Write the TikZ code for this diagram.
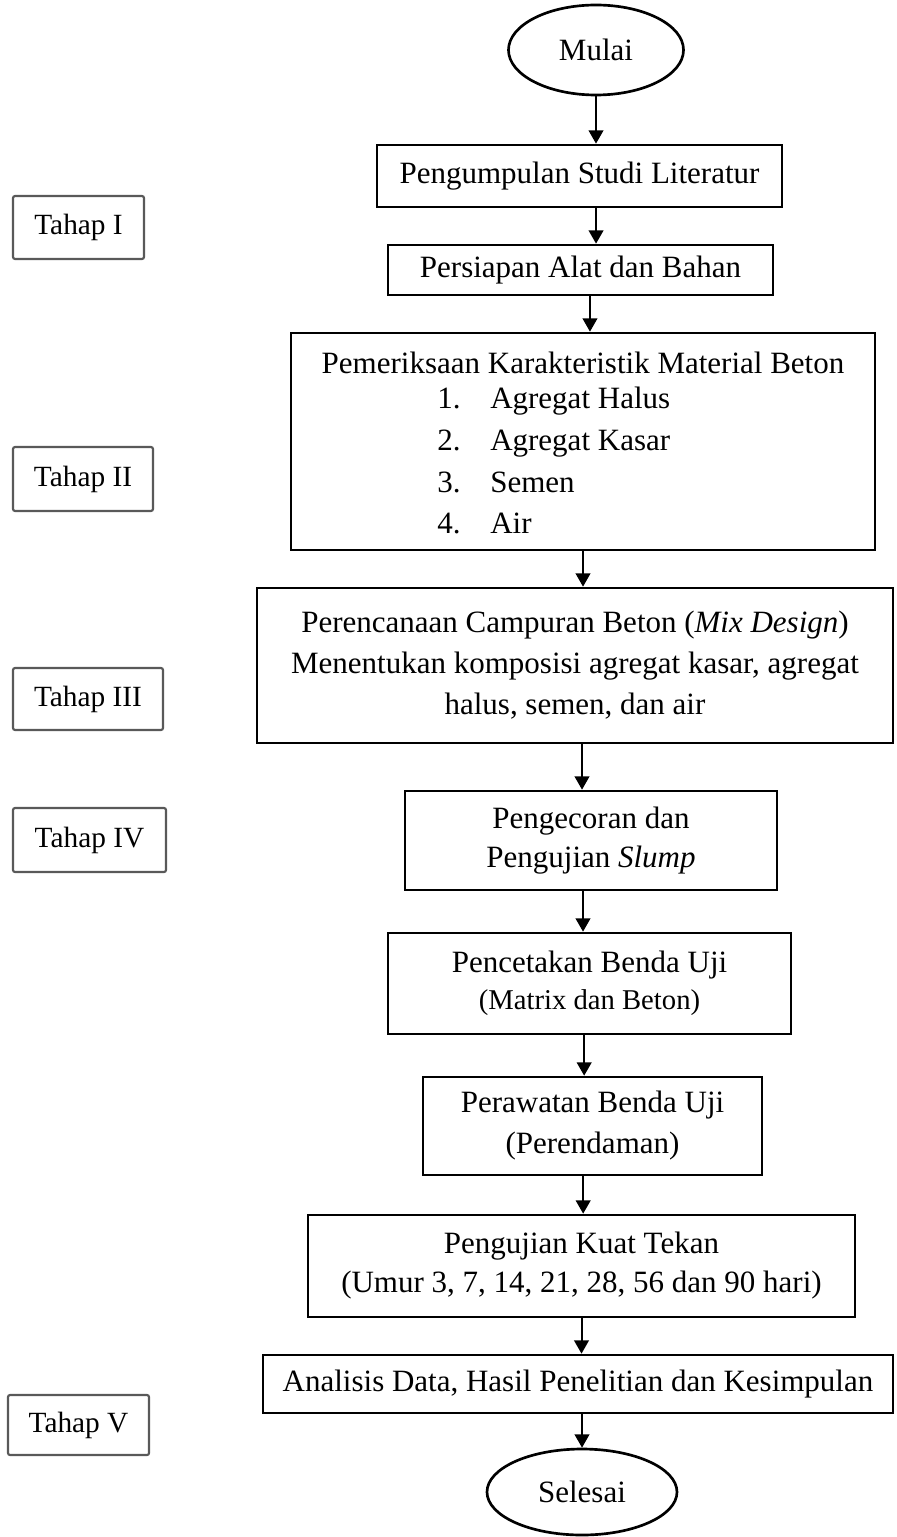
\documentclass[tikz,border=0pt]{standalone}
\usepackage{fontspec}
\setmainfont{Liberation Serif}
\usepackage{tikz}
\usetikzlibrary{positioning}
\usetikzlibrary{shapes.geometric}
\usetikzlibrary{arrows.meta}
\definecolor{tahapgray}{rgb}{0.35, 0.35, 0.35}

\tikzset{
  proses/.style={draw, line width=2pt, align=center, inner sep=0pt,
    font=\fontsize{23.25}{30.75}\selectfont},
  terminal/.style={draw, ellipse, line width=2pt, inner sep=0pt,
    font=\fontsize{23.25}{28}\selectfont},
  tahap/.style={draw=tahapgray, line width=1.6pt, rounded corners=1.5pt, inner sep=0pt,
    font=\fontsize{22}{26}\selectfont},
  butir/.style={anchor=west, inner sep=0pt, text height=1.6ex, text depth=0.5ex,
    font=\fontsize{23.25}{28}\selectfont},
  panah/.style={-{Triangle[length=10pt,width=11pt]}, line width=1.5pt}
}

\begin{document}
\begin{tikzpicture}[x=0.75pt,y=0.75pt,yscale=-1,xscale=1]
\useasboundingbox (0,0) rectangle (896,1537);

%Shape: Ellipse [id:mulai]
\node[terminal, minimum width=131.25pt, minimum height=67.5pt] (mulai) at (596,50) {Mulai};

%Shape: Rectangle [id:studi]
\node[proses, minimum width=303.75pt, minimum height=46.5pt] (studi) at (579.5,176) {Pengumpulan Studi Literatur};
%Shape: Rectangle [id:persiapan]
\node[proses, minimum width=288.75pt, minimum height=37.5pt] (persiapan) at (580.5,270) {Persiapan Alat dan Bahan};
%Shape: Rectangle [id:periksa]
\node[proses, minimum width=438pt, minimum height=162.75pt] (periksa) at (583,441.5) {};
%Shape: Rectangle [id:campuran]
\node[proses, minimum width=477pt, minimum height=116.25pt] (campuran) at (575,665.5)
  {Perencanaan Campuran Beton (\textit{Mix Design})\\Menentukan komposisi agregat kasar, agregat\\halus, semen, dan air};
%Shape: Rectangle [id:pengecoran]
\node[proses, minimum width=279pt, minimum height=74.25pt, font=\fontsize{23.25}{29.25}\selectfont] (pengecoran) at (591,840.5)
  {Pengecoran dan\\Pengujian \textit{Slump}};
%Shape: Rectangle [id:pencetakan]
\node[proses, minimum width=302.25pt, minimum height=75.75pt, font=\fontsize{23.25}{27.5}\selectfont] (pencetakan) at (589.5,983.5)
  {Pencetakan Benda Uji\\{\fontsize{21.5}{27.5}\selectfont(Matrix dan Beton)}};
%Shape: Rectangle [id:perawatan]
\node[proses, minimum width=254.25pt, minimum height=73.5pt] (perawatan) at (592.5,1126)
  {Perawatan Benda Uji\\(Perendaman)};
%Shape: Rectangle [id:pengujian]
\node[proses, minimum width=410.25pt, minimum height=76.5pt, font=\fontsize{23.25}{29.25}\selectfont] (pengujian) at (581.5,1266)
  {Pengujian Kuat Tekan\\(Umur 3, 7, 14, 21, 28, 56 dan 90 hari)};
%Shape: Rectangle [id:analisis]
\node[proses, minimum width=472.5pt, minimum height=43.5pt] (analisis) at (578,1384)
  {Analisis Data, Hasil Penelitian dan Kesimpulan};

%Shape: Ellipse [id:selesai]
\node[terminal, minimum width=142.5pt, minimum height=64.5pt] (selesai) at (582,1492) {Selesai};

% Text Node
\node[font=\fontsize{23.25}{28}\selectfont] (periksajudul) at (583,363) {Pemeriksaan Karakteristik Material Beton};
% Text Node
\node[butir] (no1) at (437,405) {1.};
\node[butir] (isi1) at (490,405) {Agregat Halus};
% Text Node
\node[butir] (no2) at (437,447) {2.};
\node[butir] (isi2) at (490,447) {Agregat Kasar};
% Text Node
\node[butir] (no3) at (437,489) {3.};
\node[butir] (isi3) at (490,489) {Semen};
% Text Node
\node[butir] (no4) at (437,530) {4.};
\node[butir] (isi4) at (490,530) {Air};

%Shape: Rectangle [id:tahap]
\node[tahap, minimum width=98.25pt, minimum height=47.25pt] (tahap1) at (78.5,227.5) {Tahap I};
\node[tahap, minimum width=105pt, minimum height=48pt] (tahap2) at (83,479) {Tahap II};
\node[tahap, minimum width=112.5pt, minimum height=46.5pt] (tahap3) at (88,699) {Tahap III};
\node[tahap, minimum width=114.75pt, minimum height=48pt] (tahap4) at (89.5,840) {Tahap IV};
\node[tahap, minimum width=105.75pt, minimum height=45pt] (tahap5) at (78.5,1425) {Tahap V};

%Straight Lines [id:panah]
\draw[panah] (mulai.south) -- (mulai.south |- studi.north);
\draw[panah] ([xshift=12.4pt]studi.south) -- ([xshift=12.4pt]studi.south |- persiapan.north);
\draw[panah] ([xshift=7.1pt]persiapan.south) -- ([xshift=7.1pt]persiapan.south |- periksa.north);
\draw[panah] (periksa.south) -- (periksa.south |- campuran.north);
\draw[panah] ([xshift=5.25pt]campuran.south) -- ([xshift=5.25pt]campuran.south |- pengecoran.north);
\draw[panah] ([xshift=-6pt]pengecoran.south) -- ([xshift=-6pt]pengecoran.south |- pencetakan.north);
\draw[panah] ([xshift=-4pt]pencetakan.south) -- ([xshift=-4pt]pencetakan.south |- perawatan.north);
\draw[panah] ([xshift=-7pt]perawatan.south) -- ([xshift=-7pt]perawatan.south |- pengujian.north);
\draw[panah] (pengujian.south) -- (pengujian.south |- analisis.north);
\draw[panah] (analisis.south -| selesai.north) -- (selesai.north);

\end{tikzpicture}
\end{document}
